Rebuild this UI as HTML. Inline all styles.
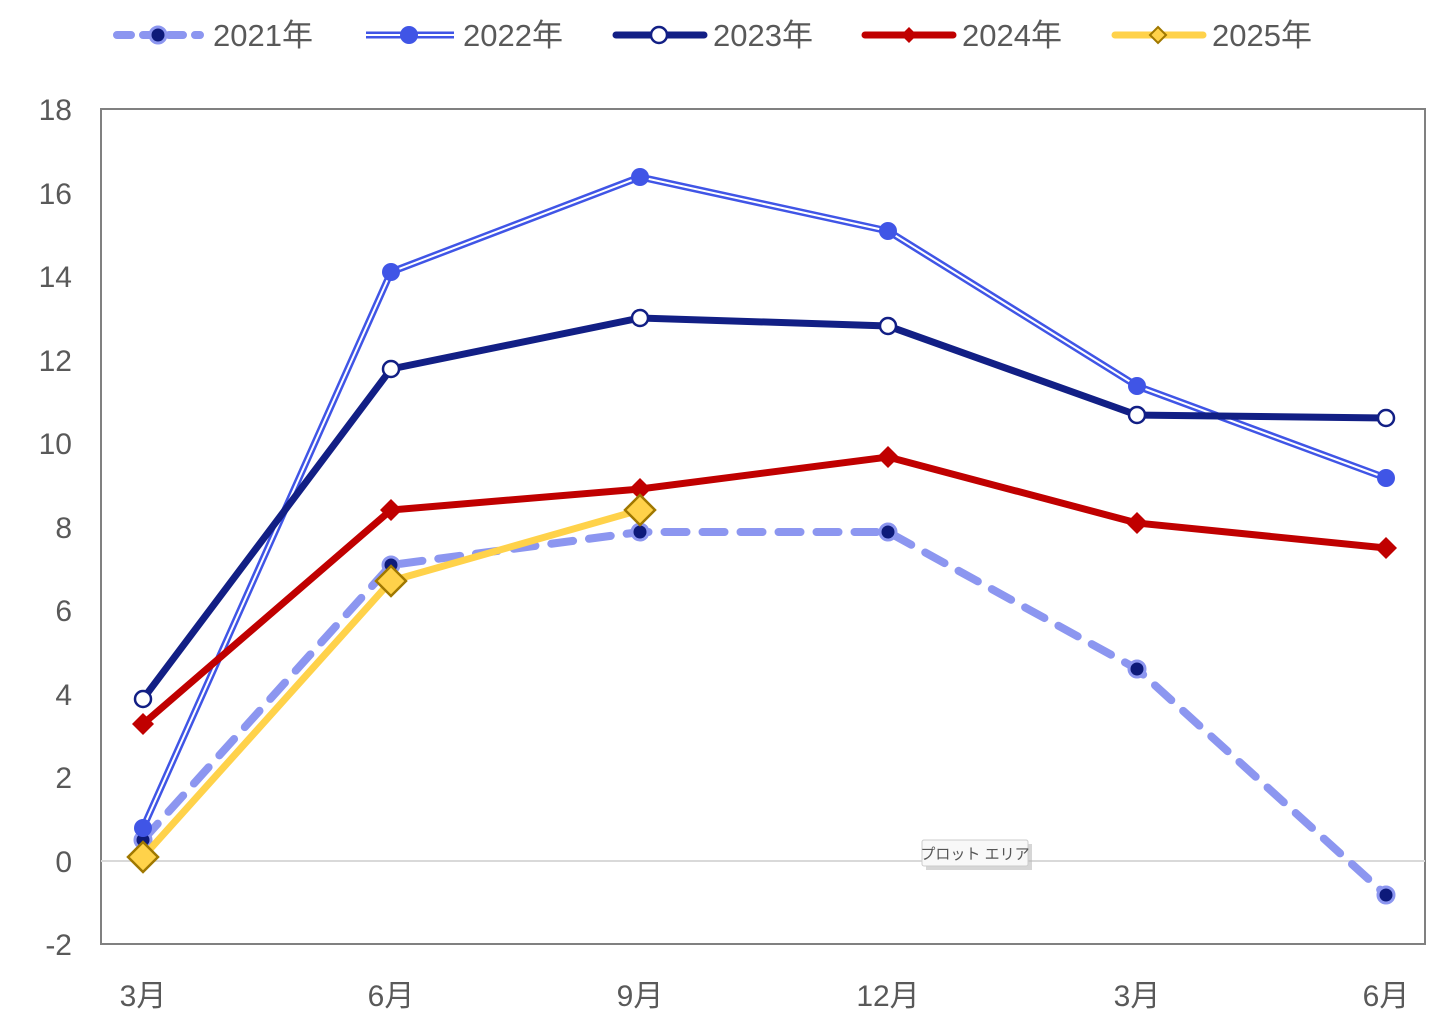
<!DOCTYPE html>
<html><head><meta charset="utf-8"><style>
html,body{margin:0;padding:0;background:#fff;}
svg{display:block;}
text{font-family:"Liberation Sans","Noto Sans CJK JP",sans-serif;fill:#595959;}
</style></head><body>
<svg width="1429" height="1009" viewBox="0 0 1429 1009" xmlns="http://www.w3.org/2000/svg">
<rect x="0" y="0" width="1429" height="1009" fill="#fff"/>
<rect x="101" y="109" width="1324" height="835" fill="none" stroke="#808080" stroke-width="2"/>
<line x1="101" y1="861" x2="1425" y2="861" stroke="#d9d9d9" stroke-width="2"/>
<g font-size="30" text-anchor="end">
<text x="72" y="120">18</text><text x="72" y="204">16</text><text x="72" y="287">14</text>
<text x="72" y="371">12</text><text x="72" y="454">10</text><text x="72" y="538">8</text>
<text x="72" y="621">6</text><text x="72" y="705">4</text><text x="72" y="788">2</text>
<text x="72" y="872">0</text><text x="72" y="955">-2</text>
</g>
<g font-size="30" text-anchor="middle">
<text x="143" y="1006">3月</text><text x="391" y="1006">6月</text><text x="640" y="1006">9月</text>
<text x="888" y="1006">12月</text><text x="1137" y="1006">3月</text><text x="1386" y="1006">6月</text>
</g>
<polyline points="143,840 391,565 640,532 888,532 1137,669 1386,895" fill="none" stroke="#8c96f0" stroke-width="8" stroke-dasharray="22,16" stroke-linecap="round"/>
<g fill="#0d1a7a" stroke="#8c96f0" stroke-width="3">
<circle cx="143" cy="840" r="8"/><circle cx="391" cy="565" r="8"/><circle cx="640" cy="532" r="8"/>
<circle cx="888" cy="532" r="8"/><circle cx="1137" cy="669" r="8"/><circle cx="1386" cy="895" r="8"/>
</g>
<polyline points="143,828 391,272 640,177 888,231 1137,386 1386,478" fill="none" stroke="#4055e6" stroke-width="7"/>
<polyline points="143,828 391,272 640,177 888,231 1137,386 1386,478" fill="none" stroke="#fff" stroke-width="2"/>
<g fill="#4055e6">
<circle cx="143" cy="828" r="9"/><circle cx="391" cy="272" r="9"/><circle cx="640" cy="177" r="9"/>
<circle cx="888" cy="231" r="9"/><circle cx="1137" cy="386" r="9"/><circle cx="1386" cy="478" r="9"/>
</g>
<polyline points="143,699 391,369 640,318 888,326 1137,415 1386,418" fill="none" stroke="#121f85" stroke-width="7"/>
<g fill="#fff" stroke="#121f85" stroke-width="2.5">
<circle cx="143" cy="699" r="8"/><circle cx="391" cy="369" r="8"/><circle cx="640" cy="318" r="8"/>
<circle cx="888" cy="326" r="8"/><circle cx="1137" cy="415" r="8"/><circle cx="1386" cy="418" r="8"/>
</g>
<polyline points="143,724 391,510 640,489 888,457 1137,523 1386,548" fill="none" stroke="#c00000" stroke-width="7"/>
<g fill="#c00000">
<path d="M143,713l11,11l-11,11l-11,-11z"/><path d="M391,499l11,11l-11,11l-11,-11z"/>
<path d="M640,478l11,11l-11,11l-11,-11z"/><path d="M888,446l11,11l-11,11l-11,-11z"/>
<path d="M1137,512l11,11l-11,11l-11,-11z"/><path d="M1386,537l11,11l-11,11l-11,-11z"/>
</g>
<polyline points="143,857 391,581 640,510" fill="none" stroke="#ffd24a" stroke-width="7"/>
<g fill="#ffd24a" stroke="#a07800" stroke-width="2.5">
<path d="M143,842l15,15l-15,15l-15,-15z"/><path d="M391,566l15,15l-15,15l-15,-15z"/>
<path d="M640,495l15,15l-15,15l-15,-15z"/>
</g>
<rect x="926" y="844" width="106" height="26" fill="#bbb" opacity="0.6"/>
<rect x="922" y="840" width="106" height="26" fill="#f8f8f8" stroke="#ccc" stroke-width="1" rx="2"/>
<text x="975" y="859" font-size="15" text-anchor="middle" style="fill:#555">プロット エリア</text>
<line x1="117" y1="35" x2="200" y2="35" stroke="#8c96f0" stroke-width="8" stroke-dasharray="14,12" stroke-linecap="round"/>
<circle cx="158" cy="35" r="8" fill="#0d1a7a" stroke="#8c96f0" stroke-width="3"/>
<text x="213" y="46" font-size="31">2021年</text>
<line x1="366" y1="35" x2="454" y2="35" stroke="#4055e6" stroke-width="7"/>
<line x1="366" y1="35" x2="454" y2="35" stroke="#fff" stroke-width="2"/>
<circle cx="409" cy="35" r="9" fill="#4055e6"/>
<text x="463" y="46" font-size="31">2022年</text>
<line x1="616" y1="35" x2="704" y2="35" stroke="#121f85" stroke-width="7" stroke-linecap="round"/>
<circle cx="659" cy="35" r="8" fill="#fff" stroke="#121f85" stroke-width="2.5"/>
<text x="713" y="46" font-size="31">2023年</text>
<line x1="865" y1="35" x2="953" y2="35" stroke="#c00000" stroke-width="7" stroke-linecap="round"/>
<path d="M909,27l8,8l-8,8l-8,-8z" fill="#c00000"/>
<text x="962" y="46" font-size="31">2024年</text>
<line x1="1115" y1="35" x2="1203" y2="35" stroke="#ffd24a" stroke-width="7" stroke-linecap="round"/>
<path d="M1158,27l8,8l-8,8l-8,-8z" fill="#ffd24a" stroke="#a07800" stroke-width="2"/>
<text x="1212" y="46" font-size="31">2025年</text>
</svg>
</body></html>
